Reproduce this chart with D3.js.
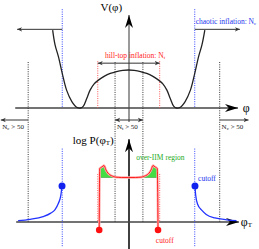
<!DOCTYPE html>
<html><head><meta charset="utf-8">
<script src="https://cdn.jsdelivr.net/npm/d3@7"></script>
<style>html,body{margin:0;padding:0;background:#fff;}svg{display:block;}text{font-family:"Liberation Serif","DejaVu Serif",serif;}</style>
</head><body>
<script>
// ---- data (phi in units where the potential minima sit at phi = ±1) ----
const phiV = [-1.58,-1.53,-1.46,-1.38,-1.29,-1.18,-1.08,-1.0,-0.94,-0.87,-0.80,-0.72,-0.62,-0.50,-0.38,-0.25,-0.12,0,0.12,0.25,0.38,0.50,0.62,0.72,0.80,0.87,0.94,1.0,1.08,1.18,1.29,1.38,1.46,1.53,1.59];
const valV = [2.05,1.66,1.35,0.91,0.47,0.17,0.02,0,0.05,0.25,0.47,0.63,0.74,0.84,0.91,0.96,0.99,1.0,0.99,0.96,0.91,0.84,0.74,0.63,0.47,0.25,0.05,0,0.02,0.17,0.47,0.91,1.35,1.66,2.05];
const phiP = [-0.61,-0.60,-0.55,-0.51,-0.47,-0.43,-0.39,-0.33,-0.28,-0.15,0,0.15,0.28,0.33,0.39,0.43,0.47,0.51,0.55,0.60,0.615];
const valP = [-0.18,1.20,1.24,1.27,1.17,1.10,1.06,1.03,1.01,1.0,1.0,1.0,1.01,1.03,1.06,1.10,1.17,1.27,1.24,1.20,-0.18];
const phiBL = [-2.30,-2.05,-1.78,-1.62,-1.53,-1.46,-1.41,-1.385];
const valBL = [0.03,0.06,0.12,0.20,0.28,0.42,0.60,0.81];
const phiBR = [1.385,1.40,1.44,1.53,1.62,1.80,2.05,2.25];
const valBR = [0.81,0.60,0.40,0.26,0.17,0.09,0.05,0.03];
const blackDotted = [-2.09,-0.28,0.30,1.90];
const blueDotted = [-1.38,1.38];
const redDotted = [-0.64,0.65];
const labels = {V:"V(φ)", P:"log P(φ", phi:"φ", chaotic:"chaotic inflation: N", hill:"hill-top inflation: N", over:"over-IIM region", cutoff:"cutoff"};

const W=259,H=249;
const svg=d3.select("body").append("svg").attr("width",W).attr("height",H);
const x=d3.scaleLinear().domain([-1,1]).range([80.5,176.5]);
const yV=d3.scaleLinear().domain([0,1]).range([108,70]);
const yP=d3.scaleLinear().domain([0,1]).range([222,177.5]);

const defs=svg.append("defs");
function marker(id,color,len,half){
  defs.append("marker").attr("id",id).attr("markerUnits","userSpaceOnUse")
   .attr("markerWidth",len+2).attr("markerHeight",2*half+2).attr("refX",len).attr("refY",half+1)
   .attr("orient","auto-start-reverse").attr("viewBox",`0 0 ${len+2} ${2*half+2}`)
   .append("path").attr("d",`M0,1 L${len},${half+1} L0,${2*half+1} L${len*0.3},${half+1} Z`).attr("fill",color);
}
marker("big","#000",13,4);
marker("sm","#333",5,2.2);

// ---- top panel axes ----
svg.append("line").attr("x1",x(0)+0.5).attr("x2",x(0)+0.5).attr("y1",yV(-0.37)).attr("y2",yV(2.45))
  .attr("stroke","#9a9a9a").attr("stroke-width",2).attr("marker-end","url(#big)");
svg.append("line").attr("x1",x(-2.36)).attr("x2",x(2.28)).attr("y1",yV(0)).attr("y2",yV(0))
  .attr("stroke","#444").attr("stroke-width",1.4).attr("marker-end","url(#big)");
svg.append("text").attr("x",x(0)-28).attr("y",yV(2.55)).attr("font-size",11).text(labels.V);
svg.append("text").attr("x",x(2.38)).attr("y",yV(-0.1)).attr("font-size",12).text(labels.phi);

// ---- bottom panel axes ----
svg.append("line").attr("x1",x(0)+0.5).attr("x2",x(0)+0.5).attr("y1",yP(-0.62)).attr("y2",yP(1.86))
  .attr("stroke","#111").attr("stroke-width",1.6).attr("marker-end","url(#big)");
svg.append("line").attr("x1",x(-2.34)).attr("x2",x(2.30)).attr("y1",yP(0)).attr("y2",yP(0))
  .attr("stroke","#444").attr("stroke-width",1.4).attr("marker-end","url(#big)");
svg.append("text").attr("x",x(-1.16)).attr("y",yP(1.76)).attr("font-size",11).text(labels.P)
  .append("tspan").attr("font-size",7).attr("dy",1).text("T").select(function(){return this.parentNode;})
  .append("tspan").attr("dy",-1).attr("font-size",11).text(")");
const pt=svg.append("text").attr("x",x(2.34)).attr("y",yP(-0.1)).attr("font-size",12).text(labels.phi);
pt.append("tspan").attr("font-size",7).attr("dy",1).text("T");

// ---- dotted guide lines ----
const dot=(arr,color,ya,yb)=>svg.append("g").selectAll("line").data(arr).join("line")
  .attr("x1",d=>x(d)).attr("x2",d=>x(d)).attr("y1",ya).attr("y2",yb)
  .attr("stroke",color).attr("stroke-width",1).attr("stroke-dasharray","1,1.3");
dot(blackDotted,"#333",yV(1.21),yP(0));
dot(blueDotted,"#3344ff",yV(2.6),yV(0));
dot(blueDotted,"#3344ff",yP(1.65),yP(-0.56));
dot(redDotted,"#ff5555",yV(1.23),yV(0));
dot(redDotted,"#ff5555",yP(1.08),yP(0));

// ---- potential curve ----
const lineV=d3.line().x((d,i)=>x(phiV[i])).y(d=>yV(d)).curve(d3.curveCatmullRom);
svg.append("path").attr("d",lineV(valV)).attr("fill","none").attr("stroke","#222").attr("stroke-width",1.3);

// ---- arrows with labels (top) ----
const arrow=(xa,xb,y,both)=>{const l=svg.append("line").attr("x1",xa).attr("x2",xb).attr("y1",y).attr("y2",y)
  .attr("stroke","#333").attr("stroke-width",1).attr("marker-end","url(#sm)"); if(both) l.attr("marker-start","url(#sm)");};
arrow(x(-1.38),x(-2.32),yV(2.07),false);
arrow(x(1.38),x(2.32),yV(2.07),false);
arrow(x(-0.64),x(0.65),yV(1.18),true);
const t1=svg.append("text").attr("x",x(1.40)).attr("y",yV(2.2)).attr("font-size",7.5).attr("fill","#2233ee").text(labels.chaotic);
t1.append("tspan").attr("font-size",5).attr("dy",1).text("c");
const t2=svg.append("text").attr("x",x(-0.49)).attr("y",yV(1.32)).attr("font-size",7.5).attr("fill","#ff2222").text(labels.hill);
t2.append("tspan").attr("font-size",5).attr("dy",1).text("t");

// ---- arrows in middle band ----
const yMid=120;
arrow(x(-2.09),x(-2.66),yMid,false);
arrow(x(-0.28),x(0.30),yMid,true);
arrow(x(1.90),x(2.50),yMid,false);
const nl=(xx,sub)=>{const t=svg.append("text").attr("x",xx).attr("y",129).attr("font-size",7).attr("fill","#222").text("N");
  t.append("tspan").attr("font-size",5).attr("dy",1).text(sub); t.append("tspan").attr("dy",-1).text(" > 50");};
nl(x(-2.63),"c"); nl(x(-0.24),"t"); nl(x(1.94),"c");

// ---- probability: green over-IIM fill ----
const idxL=phiP.map((p,i)=>i).filter(i=>phiP[i]<=-0.28&&phiP[i]>=-0.60);
const idxR=phiP.map((p,i)=>i).filter(i=>phiP[i]>=0.28&&phiP[i]<=0.60);
const area=d3.area().x(i=>x(phiP[i])).y0(yP(1)).y1(i=>yP(valP[i])).curve(d3.curveMonotoneX);
[idxL,idxR].forEach(ix=>svg.append("path").attr("d",area(ix)).attr("fill","#44dd44").attr("stroke","#2a8a2a").attr("stroke-width",0.5));

// ---- red curve ----
const lineP=d3.line().x((d,i)=>x(phiP[i])).y(d=>yP(d)).curve(d3.curveMonotoneX);
svg.append("path").attr("d",lineP(valP)).attr("fill","none").attr("stroke","#ffb0b0").attr("stroke-width",2.4);
svg.append("path").attr("d",lineP(valP)).attr("fill","none").attr("stroke","#ff2020").attr("stroke-width",1);
svg.append("g").selectAll("circle").data([0,phiP.length-1]).join("circle")
  .attr("cx",i=>x(phiP[i])).attr("cy",i=>yP(valP[i])).attr("r",3.3).attr("fill","#ff1010");

// ---- blue curves ----
const lineB=ph=>d3.line().x((d,i)=>x(ph[i])).y(d=>yP(d)).curve(d3.curveMonotoneX);
svg.append("path").attr("d",lineB(phiBL)(valBL)).attr("fill","none").attr("stroke","#2233ff").attr("stroke-width",1.3);
svg.append("path").attr("d",lineB(phiBR)(valBR)).attr("fill","none").attr("stroke","#2233ff").attr("stroke-width",1.3);
svg.append("circle").attr("cx",x(phiBL[phiBL.length-1])).attr("cy",yP(valBL[valBL.length-1])).attr("r",3.5).attr("fill","#1122ee");
svg.append("circle").attr("cx",x(phiBR[0])).attr("cy",yP(valBR[0])).attr("r",3.5).attr("fill","#1122ee");

// ---- bottom labels ----
svg.append("text").attr("x",x(0.16)).attr("y",yP(1.39)).attr("font-size",7.5).attr("fill","#22aa22").text(labels.over);
svg.append("text").attr("x",x(1.45)).attr("y",yP(0.92)).attr("font-size",7.5).attr("fill","#2233ee").text(labels.cutoff);
svg.append("text").attr("x",x(0.57)).attr("y",yP(-0.48)).attr("font-size",7.5).attr("fill","#ff2222").text(labels.cutoff);
</script>
</body></html>
